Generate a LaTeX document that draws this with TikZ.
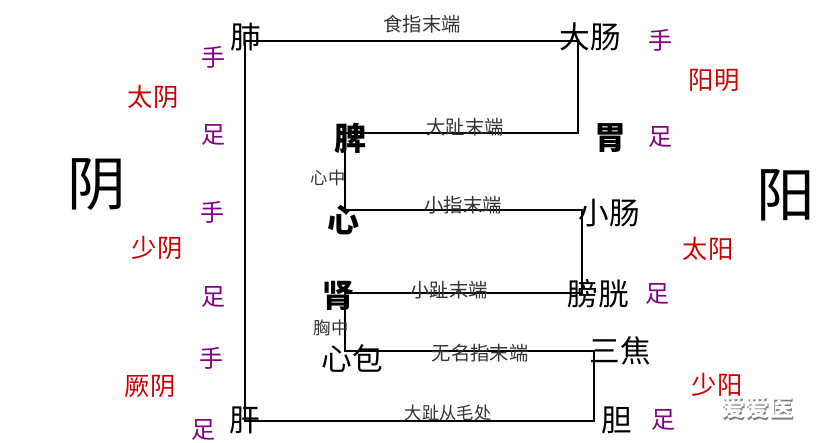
\documentclass[tikz,border=0pt]{standalone}
\usepackage{fontspec}
\setmainfont{Noto Sans CJK SC}
\begin{document}
\begin{tikzpicture}[x=0.75pt,y=-0.75pt,
  organ/.style={font=\fontsize{23}{23}\selectfont,text=black,inner sep=0pt},
  bigorgan/.style={font=\fontsize{24}{24}\selectfont\bfseries,text=black,inner sep=0pt},
  lbl/.style={font=\fontsize{14.5}{15}\selectfont,text=black!80,inner sep=0pt},
  small/.style={font=\fontsize{13}{13}\selectfont,text=black!80,inner sep=0pt},
  limb/.style={font=\fontsize{18}{18}\selectfont,text={rgb,255:red,128;green,0;blue,128},inner sep=0pt},
  yy/.style={font=\fontsize{19}{19}\selectfont,text={rgb,255:red,204;green,0;blue,0},inner sep=0pt},
  huge/.style={font=\fontsize{44}{44}\selectfont,text=black,inner sep=0pt},
  route/.style={draw=black,line width=1pt}]
\useasboundingbox (0,0) rectangle (816,442);
\fill[white] (0,0) rectangle (816,442);
\coordinate (p1) at (245,41);
\coordinate (p2) at (578,41);
\coordinate (p3) at (578,133);
\coordinate (p4) at (345,133);
\coordinate (p5) at (345,210);
\coordinate (p6) at (582,210);
\coordinate (p7) at (582,293);
\coordinate (p8) at (345,293);
\coordinate (p9) at (345,351);
\coordinate (p10) at (594,351);
\coordinate (p11) at (594,421);
\coordinate (p12) at (245,421);
\draw[route] (p1)--(p2)--(p3)--(p4)--(p5)--(p6)--(p7)--(p8)--(p9)--(p10)--(p11)--(p12)--cycle;
\node[organ] (fei) at (246,37) {肺};
\node[organ] (dachang) at (590,37) {大肠};
\node[lbl] (l1) at (422,24) {食指末端};
\node[limb] (s1) at (213,57) {手};
\node[limb] (s2) at (660,40) {手};
\node[yy] (taiyin) at (153,97) {太阴};
\node[yy] (yangming) at (714,80) {阳明};
\node[limb] (s3) at (213,135) {足};
\node[bigorgan] (pi) at (350,138) {脾};
\node[lbl] (l2) at (465,127) {大趾末端};
\node[bigorgan] (wei) at (610,138) {胃};
\node[limb] (s4) at (660,137) {足};
\node[huge] (yin) at (97,185) {阴};
\node[huge] (yang) at (786,195) {阳};
\node[small] (xz) at (328,178) {心中};
\node[limb] (s5) at (212,212) {手};
\node[bigorgan] (xin) at (343,220) {心};
\node[lbl] (l3) at (463,205) {小指末端};
\node[organ] (xc) at (609,213) {小肠};
\node[yy] (shaoyin) at (157,248) {少阴};
\node[yy] (taiyang) at (708,249) {太阳};
\node[limb] (s6) at (213,297) {足};
\node[bigorgan] (shen) at (338,296) {肾};
\node[lbl] (l4) at (449,290) {小趾末端};
\node[organ] (pg) at (598,294) {膀胱};
\node[limb] (s7) at (657,294) {足};
\node[small] (xiong) at (331,328) {胸中};
\node[organ] (xb) at (352,358) {心包};
\node[lbl] (l5) at (480,353) {无名指末端};
\node[organ] (sj) at (620,351) {三焦};
\node[limb] (s8) at (211,358) {手};
\node[yy] (jueyin) at (150,386) {厥阴};
\node[yy] (shaoyang) at (717,385) {少阳};
\node[limb] (s9) at (203,430) {足};
\node[organ] (gan) at (245,420) {肝};
\node[small] (l6) at (448,413) {大趾从毛处};
\node[organ] (dan) at (617,420) {胆};
\node[limb] (s10) at (663,420) {足};
\node[font=\fontsize{18}{18}\selectfont\bfseries,text=black!50,inner sep=0pt] (wm0) at (758.5,409.5) {爱爱医};
\node[font=\fontsize{18}{18}\selectfont\bfseries,text=white,inner sep=0pt] (wm) at (757,408) {爱爱医};
\end{tikzpicture}
\end{document}
